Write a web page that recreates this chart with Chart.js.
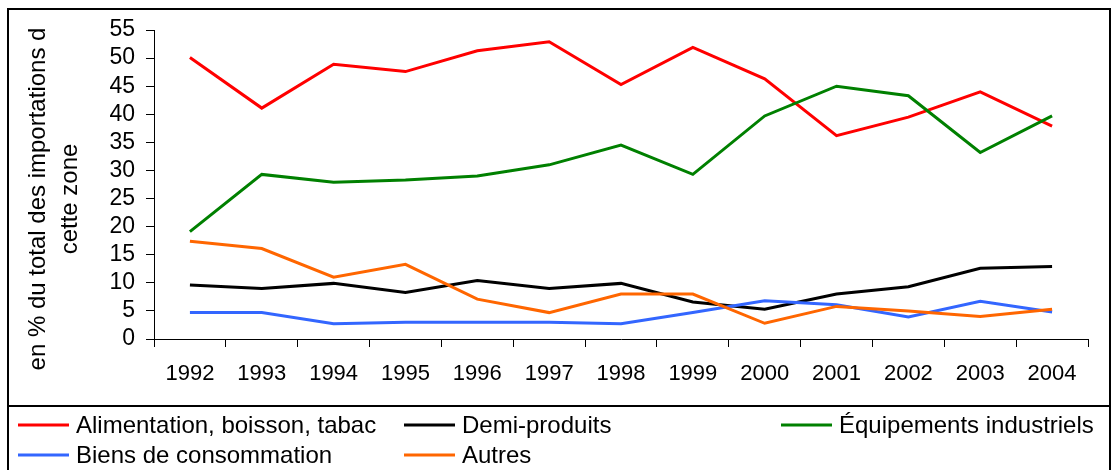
<!DOCTYPE html>
<html>
<head>
<meta charset="utf-8">
<script src="https://cdn.jsdelivr.net/npm/chart.js@4"></script>
<style>
	html, body { margin: 0; padding: 0; background: #fff; }
	#wrap { width: 1116px; height: 470px; }
</style>
</head>
<body>
<div id="wrap"><canvas id="imports-chart" width="1116" height="470"></canvas></div>
<script>
let years = ['1992', '1993', '1994', '1995', '1996', '1997', '1998', '1999', '2000', '2001', '2002', '2003', '2004'];

let alimentation = [50.1, 41.1, 48.9, 47.6, 51.3, 52.9, 45.3, 51.9, 46.3, 36.2, 39.5, 44.0, 37.9];
let demiProduits = [9.6, 9.0, 9.9, 8.3, 10.4, 9.0, 9.9, 6.6, 5.3, 8.0, 9.3, 12.6, 12.9];
let equipements  = [19.1, 29.3, 27.9, 28.3, 29.0, 31.0, 34.5, 29.3, 39.7, 45.0, 43.3, 33.2, 39.7];
let biens        = [4.7, 4.7, 2.7, 3.0, 3.0, 3.0, 2.7, 4.7, 6.8, 6.1, 3.9, 6.7, 4.8];
let autres       = [17.4, 16.1, 11.0, 13.3, 7.1, 4.7, 8.0, 8.0, 2.8, 5.8, 5.0, 4.0, 5.3];

let seriesNames  = ['Alimentation, boisson, tabac', 'Demi-produits', 'Équipements industriels', 'Biens de consommation', 'Autres'];
let seriesColors = ['#ff0000', '#000000', '#008000', '#3366ff', '#ff6600'];

let yTitle = ['en % du total des importations d', 'cette zone'];

let fontFamily = '"Liberation Sans", Arial, sans-serif';

// borders, y title and the legend are drawn by hand, Excel style
let frame = {
	id: 'frame',
	afterDraw: function (chart) {
		let ctx = chart.ctx;
		ctx.save();

		ctx.strokeStyle = '#000';
		ctx.lineWidth = 2;
		ctx.strokeRect(8, 9, 1102, 397);
		ctx.strokeRect(8, 406, 1102, 70);

		// axis title
		ctx.fillStyle = '#000';
		ctx.font = '24px ' + fontFamily;
		ctx.textAlign = 'center';
		ctx.textBaseline = 'middle';
		ctx.save();
		ctx.translate(38, 199);
		ctx.rotate(-Math.PI / 2);
		ctx.fillText(yTitle[0], 0, 0);
		ctx.fillText(yTitle[1], 0, 32);
		ctx.restore();

		// legend
		let cols = [12, 398, 775];
		let rows = [425, 455];
		ctx.font = '24px ' + fontFamily;
		ctx.textAlign = 'left';
		chart.data.datasets.forEach(function (ds, i) {
			let x = cols[i % 3];
			let y = rows[Math.floor(i / 3)];
			ctx.strokeStyle = ds.borderColor;
			ctx.lineWidth = 3;
			ctx.beginPath();
			ctx.moveTo(x + 6, y);
			ctx.lineTo(x + 57, y);
			ctx.stroke();
			ctx.fillStyle = '#000';
			ctx.fillText(ds.label, x + 64, y + 1);
		});

		ctx.restore();
	}
};

let allSeries = [alimentation, demiProduits, equipements, biens, autres];

let datasets = allSeries.map(function (values, i) {
	return {
		label: seriesNames[i],
		data: values,
		borderColor: seriesColors[i],
		backgroundColor: seriesColors[i],
		borderWidth: 3,
		pointRadius: 0,
		tension: 0,
		order: allSeries.length - i
	};
});

let ctx = document.getElementById('imports-chart').getContext('2d');

new Chart(ctx, {
	type: 'line',
	data: {
		labels: years,
		datasets: datasets
	},
	options: {
		responsive: false,
		animation: false,
		layout: {
			padding: { left: 0, right: 28, top: 30, bottom: 0 }
		},
		plugins: {
			legend: { display: false },
			tooltip: { enabled: false }
		},
		scales: {
			x: {
				offset: true,
				grid: {
					offset: true,
					drawOnChartArea: false,
					tickLength: 8,
					color: '#000',
					tickColor: '#000'
				},
				border: { color: '#000', width: 1 },
				ticks: {
					color: '#000',
					padding: 14,
					maxRotation: 0,
					autoSkip: false,
					font: { family: fontFamily, size: 22 }
				},
				afterFit: function (scale) {
					scale.height = 131;
				}
			},
			y: {
				min: 0,
				max: 55,
				grid: {
					drawOnChartArea: false,
					tickLength: 8,
					color: '#000',
					tickColor: '#000'
				},
				border: { color: '#000', width: 1 },
				ticks: {
					stepSize: 5,
					autoSkip: false,
					color: '#000',
					padding: 11,
					font: { family: fontFamily, size: 23 }
				},
				afterFit: function (scale) {
					scale.width = 154;
				}
			}
		}
	},
	plugins: [frame]
});
</script>
</body>
</html>
